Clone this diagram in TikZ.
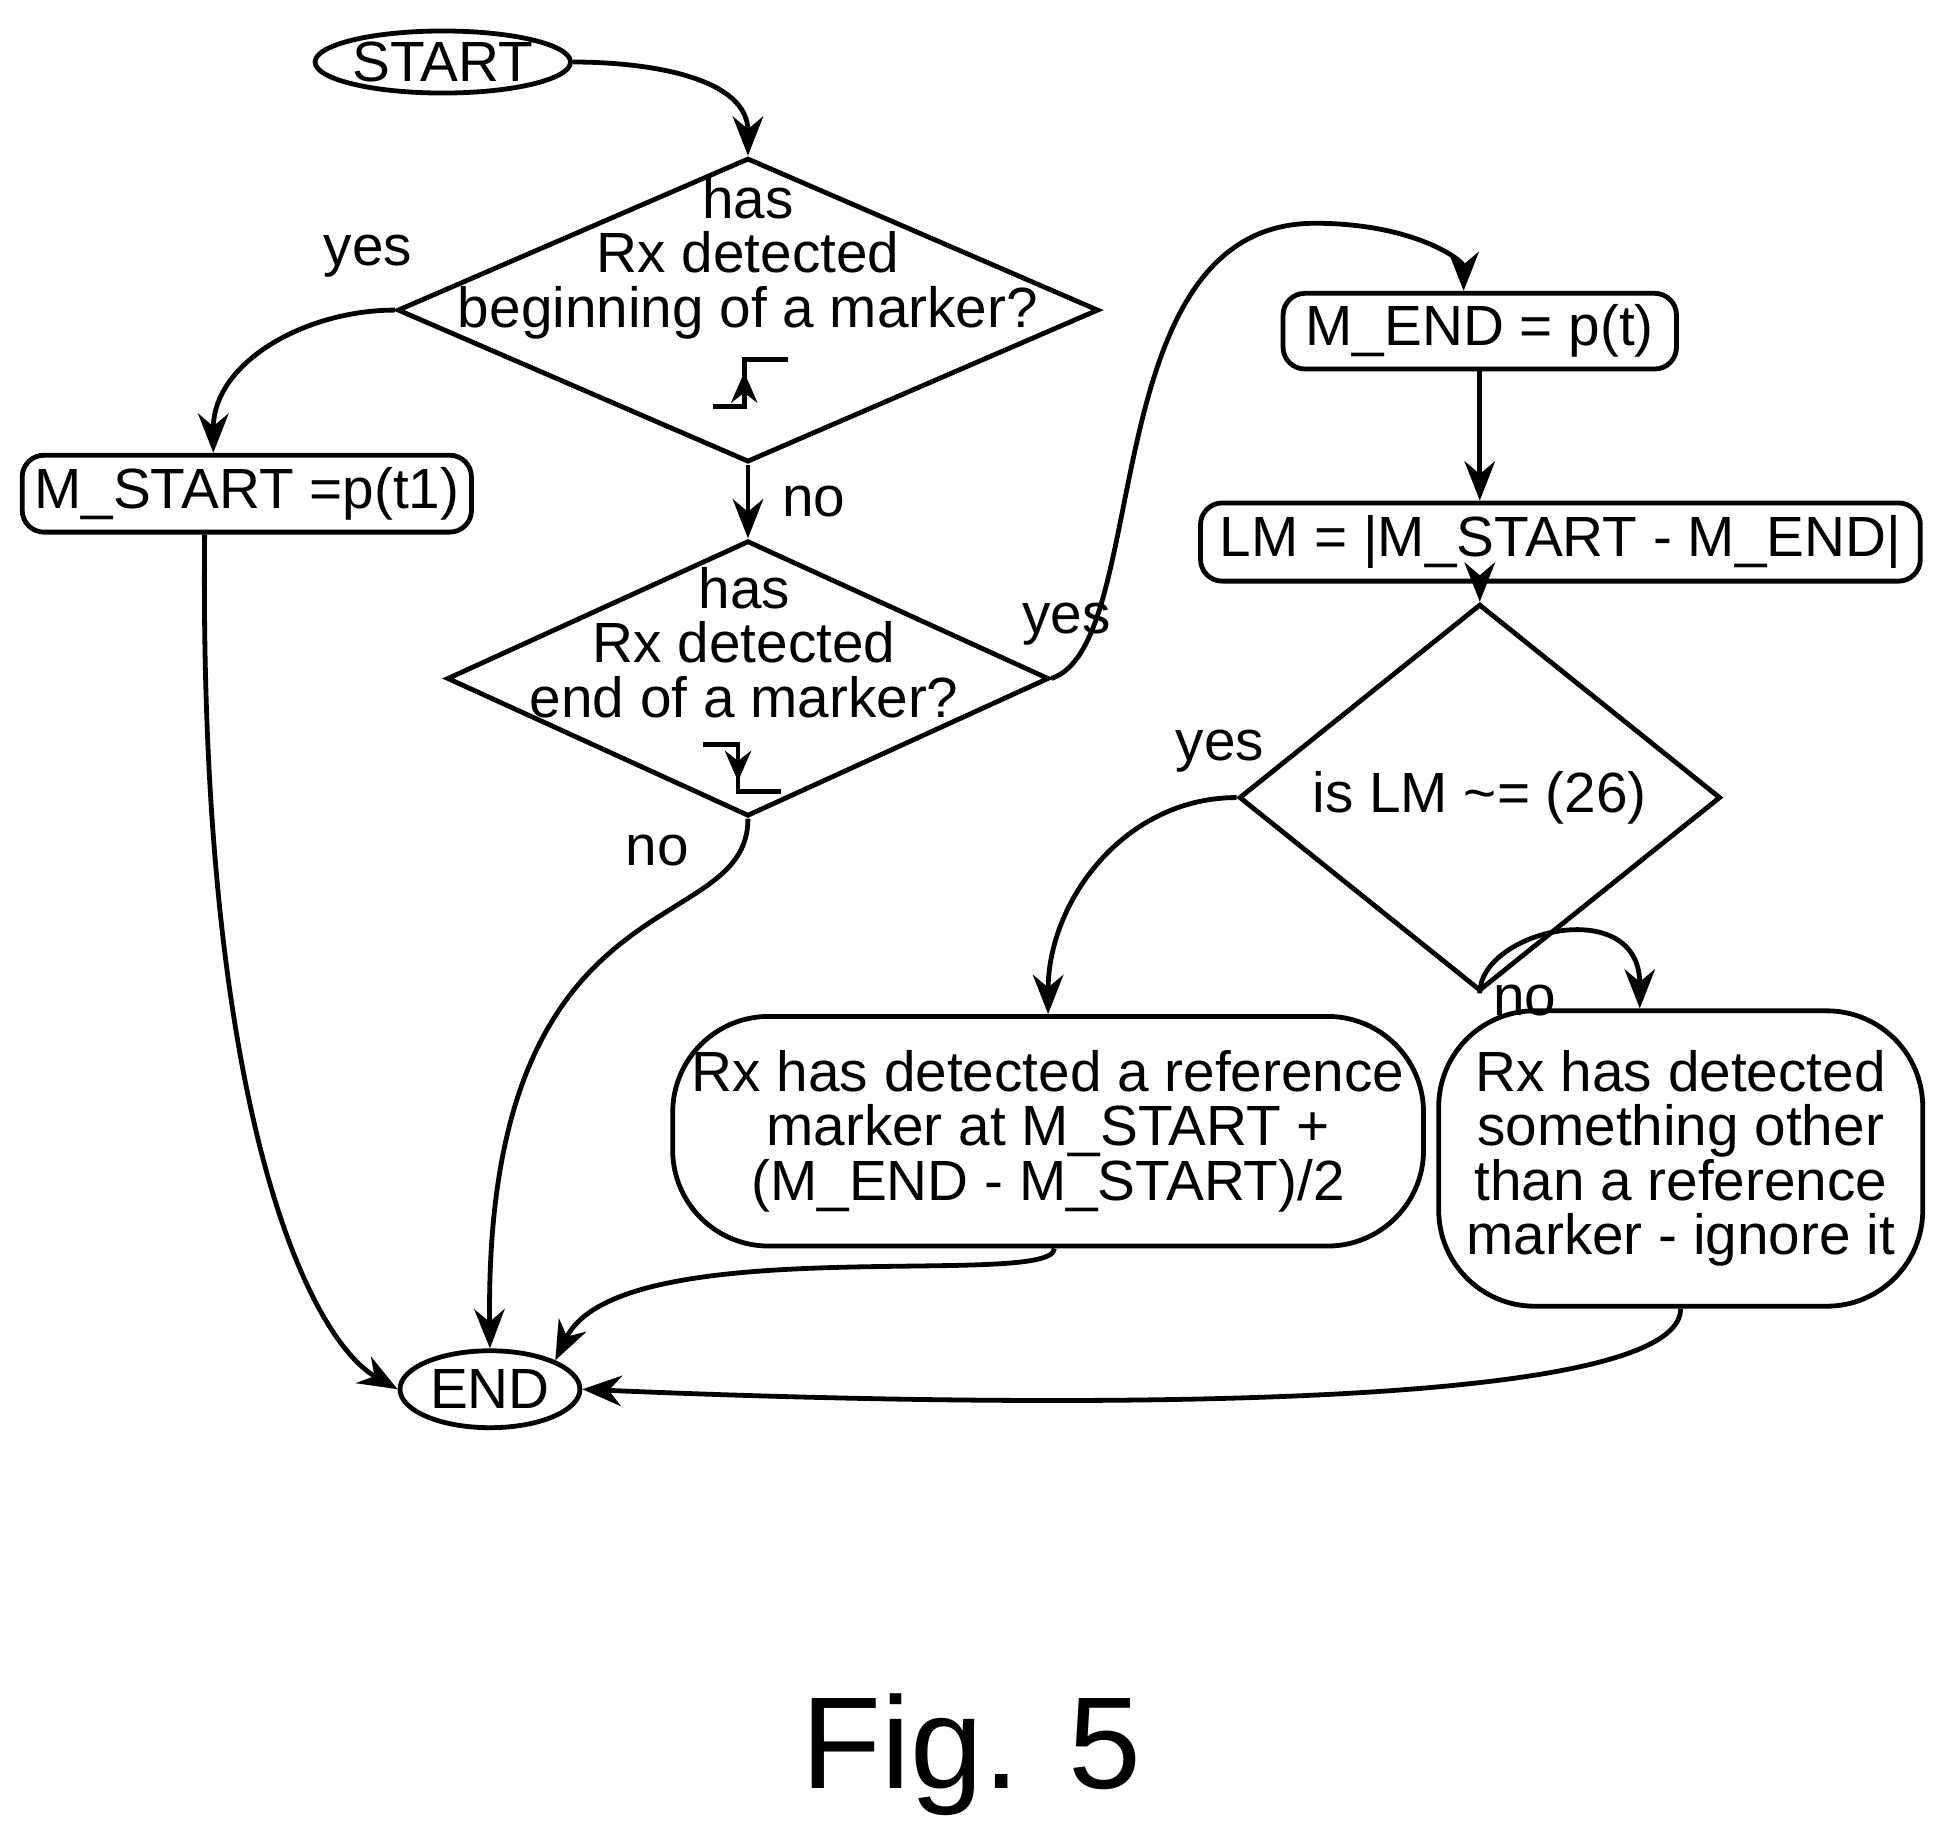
\documentclass[tikz,border=0pt]{standalone}
\usepackage{fontspec}
\setmainfont{Liberation Sans}
\usetikzlibrary{shapes.geometric,arrows.meta}
\begin{document}
\begin{tikzpicture}[x=0.01cm,y=-0.01cm,
    line width=1.1pt,
    font=\fontsize{13}{12.5}\selectfont,
    termnode/.style={ellipse, draw, inner sep=0pt},
    decnode/.style={diamond, draw, inner sep=0pt},
    boxnode/.style={rectangle, draw, rounded corners=5pt, inner sep=0pt, align=center},
    bignode/.style={rectangle, draw, rounded corners=22pt, inner sep=0pt, align=center},
    txt/.style={align=center, inner sep=0pt},
    flow/.style={-{Stealth[length=9pt,width=7pt]}},
]
    \useasboundingbox (0,0) rectangle (1560,1470);
    %Nodes
    \node[termnode, minimum width=1.85cm, minimum height=0.5cm] (start) at (357,50) {START};
    \node[decnode, minimum width=5.65cm, minimum height=2.45cm] (dbegin) at (603,250) {};
    \node[txt] (dbegintxt) at (603,208) {has\\Rx detected\\beginning of a marker?};
    \node[boxnode, minimum width=3.62cm, minimum height=0.62cm] (mstart) at (199,398) {M\_START =p(t1)};
    \node[decnode, minimum width=4.85cm, minimum height=2.22cm] (dend) at (603,547) {};
    \node[txt] (dendtxt) at (600,518) {has\\Rx detected\\end of a marker?};
    \node[boxnode, minimum width=3.17cm, minimum height=0.61cm] (mend) at (1193,267) {M\_END = p(t)};
    \node[boxnode, minimum width=5.8cm, minimum height=0.63cm] (lm) at (1258,437) {LM = |M\_START - M\_END|};
    \node[decnode, minimum width=3.88cm, minimum height=1.51cm] (dlm) at (1193,643) {is LM \textasciitilde= (26)};
    \node[bignode, minimum width=6.05cm, minimum height=1.85cm] (found) at (845,912) {Rx has detected a reference\\marker at M\_START +\\(M\_END - M\_START)/2};
    \node[bignode, minimum width=3.9cm, minimum height=2.38cm] (other) at (1355,934) {Rx has detected\\something other\\than a reference\\marker - ignore it};
    \node[termnode, minimum width=1.45cm, minimum height=0.62cm] (end) at (395,1120) {END};
    \node[txt, font=\fontsize{30}{30}\selectfont] (fig) at (783,1415) {Fig. 5};

    %Step symbols
    \draw (575,328) -- (600,328) -- (600,290) -- (635,290);
    \draw[-{Stealth[length=7pt,width=6pt]}] (600,328) -- (600,300);
    \draw (567,600) -- (595,600) -- (595,638) -- (630,638);
    \draw[-{Stealth[length=7pt,width=6pt]}] (595,600) -- (595,630);

    %Lines
    \draw[flow] (start.east) to[out=0,in=90] (dbegin.north);
    \draw[flow] (dbegin.west) to[out=180,in=90] node[pos=0.1,above=4pt]{yes} ([xshift=-0.27cm]mstart.north);
    \draw[flow] ([xshift=-0.34cm]mstart.south) .. controls (160,900) and (250,1080) .. (end.west);
    \draw[flow] (dbegin.south) -- node[right=4pt]{no} (dend.north);
    \draw[flow] (dend.east) .. controls (930,520) and (880,180) .. (1060,180) .. controls (1140,180) and (1180,210) .. ([xshift=-0.13cm]mend.north);
    \node (yesend) at (860,503) {yes};
    \draw[flow] (dend.south) .. controls (603,760) and (390,700) .. node[pos=0.1,left=8pt]{no} (end.north);
    \draw[flow] (mend.south) -- (mend.south |- lm.north);
    \draw[flow] (dlm.north |- lm.south) -- (dlm.north);
    \draw[flow] (dlm.west) to[out=180,in=90] node[pos=0.05,above=2pt]{yes} (found.north);
    \draw[flow] (dlm.south) .. controls (1193,750) and (1322,720) .. node[pos=0.35,below=6pt]{no} ([xshift=-0.33cm]other.north);
    \draw[flow] ([xshift=0.05cm]found.south) .. controls (850,1040) and (500,990) .. (end.north east);
    \draw[flow] (other.south) .. controls (1355,1150) and (700,1130) .. (end.east);
\end{tikzpicture}
\end{document}
